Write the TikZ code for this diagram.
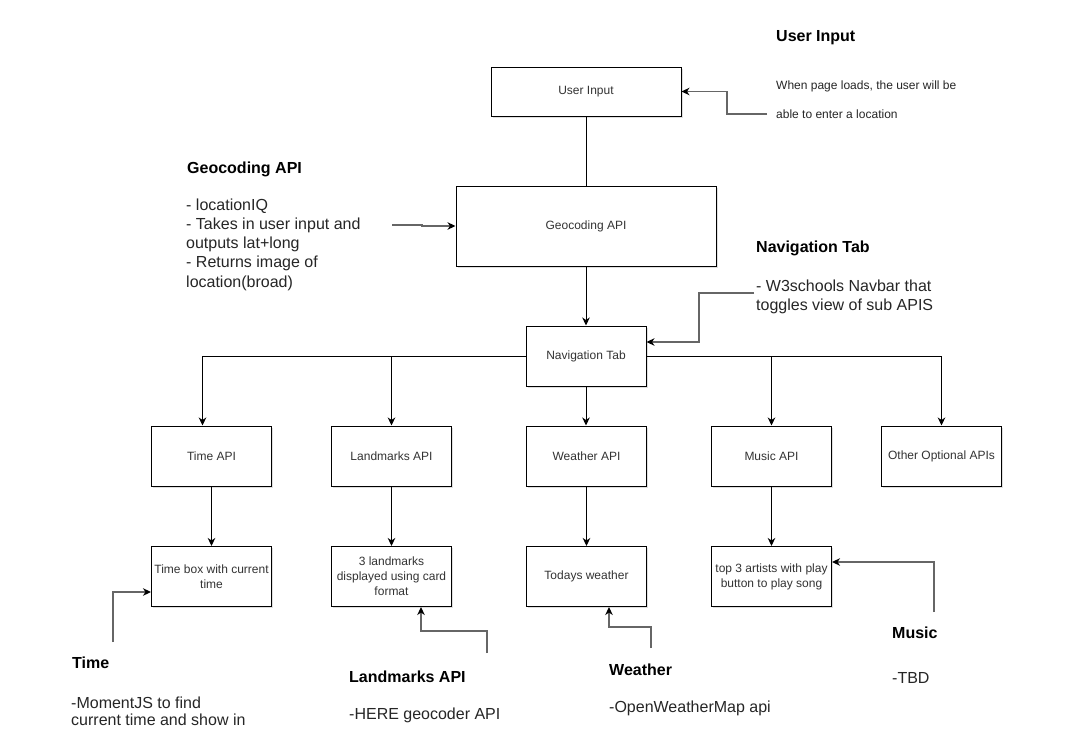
\documentclass[tikz,border=0pt]{standalone}
\usepackage{fontspec}
\setmainfont{Liberation Sans}
\usetikzlibrary{arrows.meta,shadows}
\begin{document}
\begin{tikzpicture}[x=1pt,y=-1pt,
  box/.style={draw, line width=1pt, fill=white, minimum width=120pt, minimum height=60pt,
    inner sep=2pt, align=center, font=\fontsize{12}{15}\selectfont, text=black!80,
    drop shadow={opacity=0.25, shadow xshift=1.5pt, shadow yshift=-1.5pt}},
  conn/.style={line width=1pt, -{Stealth[length=8pt,width=7.5pt,inset=2.5pt]}},
  plain/.style={line width=1pt},
  notel/.style={line width=1.3pt, draw=black!60, -{Stealth[length=8pt,width=7.5pt,inset=2.5pt,color=black]}},
  ntitle/.style={anchor=west, inner sep=0pt, font=\bfseries\fontsize{16}{19}\selectfont},
  nbody/.style={anchor=west, inner sep=0pt, align=left, text=black!85}
]
\useasboundingbox (0,0) rectangle (1088,744);
\fill[white] (0,0) rectangle (1088,744);

% main boxes
\node[box, minimum width=190pt, minimum height=49pt] (ui) at (586,91.5) {User Input};
\node[box, minimum width=260pt, minimum height=80pt] (geo) at (586,226) {Geocoding API};
\node[box] (nav) at (586,356) {Navigation Tab};

\node[box] (time) at (211.5,456) {Time API};
\node[box] (land) at (391.5,456) {Landmarks API};
\node[box] (weather) at (586.5,456) {Weather API};
\node[box] (music) at (771.5,456) {Music API};
\node[box] (other) at (941.5,456) {Other Optional APIs};

\node[box] (timebox) at (211.5,576.5) {Time box with current\\time};
\node[box] (landbox) at (391.5,576.5) {3 landmarks\\displayed using card\\format};
\node[box] (wbox) at (586.5,576.5) {Todays weather};
\node[box] (mbox) at (771.5,576.5) {top 3 artists with play\\button to play song};

% main connectors
\draw[plain] (ui.south) -- (geo.north);
\draw[conn] (geo.south) -- (nav.north);
\draw[conn] (nav.west) -| ([xshift=-9pt]time.north);
\draw[conn] (nav.west) -| (land.north);
\draw[conn] (nav.south) -- (nav.south |- weather.north);
\draw[conn] (nav.east) -| (music.north);
\draw[conn] (nav.east) -| (other.north);
\draw[conn] (time.south) -- (timebox.north);
\draw[conn] (land.south) -- (landbox.north);
\draw[conn] (weather.south) -- (wbox.north);
\draw[conn] (music.south) -- (mbox.north);

% notes
\node[ntitle] (uit) at (776,38) {User Input};
\node[nbody, font=\fontsize{12}{29}\selectfont] (uib) at (776,99.5) {When page loads, the user will be\\able to enter a location};

\node[ntitle] (geot) at (187,169) {Geocoding API};
\node[nbody, font=\fontsize{16}{19.25}\selectfont] (geob) at (186,244.5) {- locationIQ\\- Takes in user input and\\outputs lat+long\\- Returns image of\\location(broad)};

\node[ntitle] (navt) at (756,248) {Navigation Tab};
\node[nbody, font=\fontsize{16}{19}\selectfont] (navb) at (756,296.5) {- W3schools Navbar that\\toggles view of sub APIS};

\node[ntitle] (timet) at (72,663) {Time};
\node[nbody, font=\fontsize{16}{17.5}\selectfont] (timeb) at (71,711.5) {-MomentJS to find\\current time and show in};

\node[ntitle] (landt) at (349,677) {Landmarks API};
\node[nbody, font=\fontsize{16}{17}\selectfont] (landb) at (349,715) {-HERE geocoder API};

\node[ntitle] (wt) at (609,670) {Weather};
\node[nbody, font=\fontsize{16}{17}\selectfont] (wb) at (609,708) {-OpenWeatherMap api};

\node[ntitle] (mt) at (892,633) {Music};
\node[nbody, font=\fontsize{16}{17}\selectfont] (mb) at (892,678) {-TBD};

% note connectors
\coordinate (c1) at (767,114);
\coordinate (c2) at (392,225);
\coordinate (c3) at (754,293);
\coordinate (c4) at (113,642);
\coordinate (c5) at (487,653);
\coordinate (c6) at (651,648);
\coordinate (c7) at (934,612);

\draw[notel] (c1) -- ++(-40,0) |- (ui.east);
\draw[notel] (c2) -- ++(30,0) |- (geo.west);
\draw[notel] (c3) -- ++(-55,0) |- ([yshift=14pt]nav.east);
\draw[notel] (c4) |- ([yshift=-15.5pt]timebox.west);
\draw[notel] (c5) -- ++(0,-22) -| ([xshift=29.5pt]landbox.south);
\draw[notel] (c6) -- ++(0,-21) -| ([xshift=22.5pt]wbox.south);
\draw[notel] (c7) |- ([yshift=14.5pt]mbox.east);
\end{tikzpicture}
\end{document}
